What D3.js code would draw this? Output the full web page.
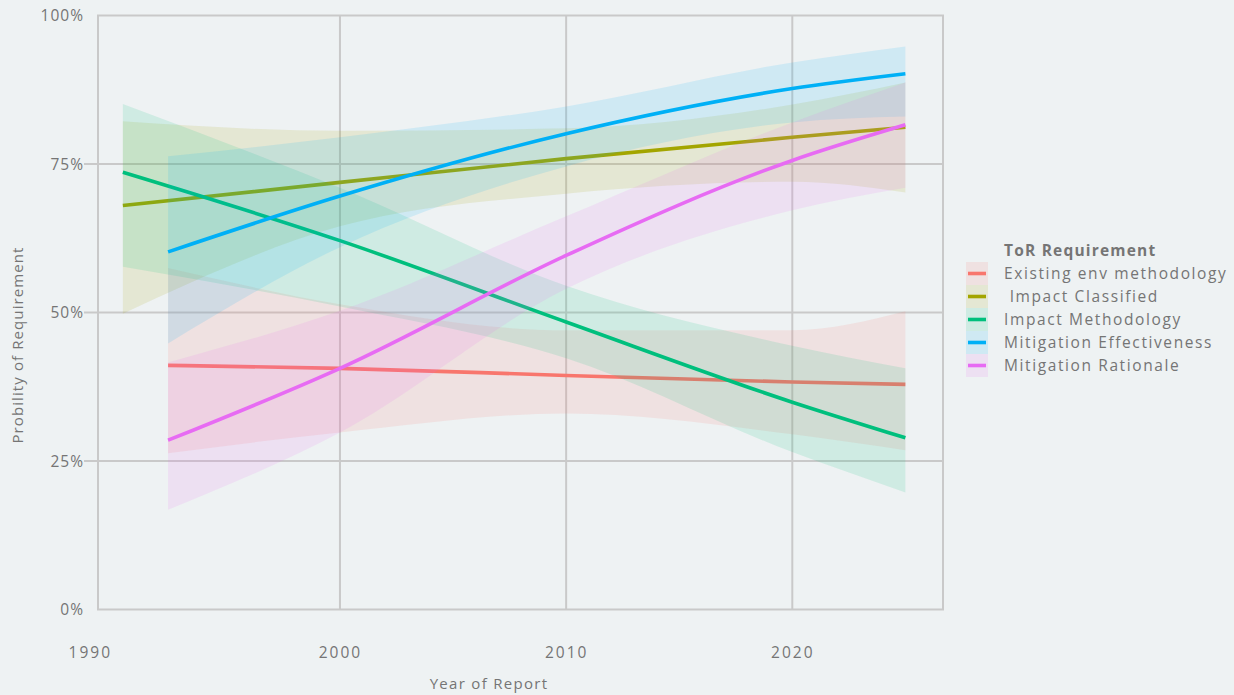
<!DOCTYPE html>
<html><head><meta charset="utf-8">
<script src="https://cdn.jsdelivr.net/npm/d3@7"></script>
<style>
html,body{margin:0;padding:0;background:#eef2f3;}
svg{display:block;}
text{font-family:"Open Sans","Noto Sans",sans-serif;fill:#757575;}
</style></head>
<body>
<svg id="chart" width="1234" height="695"></svg>
<script>
// ---- data ----
const seriesNames = ["Existing env methodology","Impact Classified","Impact Methodology","Mitigation Effectiveness","Mitigation Rationale"];
const legendLabels = ["Existing env methodology"," Impact Classified","Impact Methodology","Mitigation Effectiveness","Mitigation Rationale"];
const seriesColors = ["#F8766D","#A3A500","#00BF7D","#00B0F6","#E76BF3"];
const yearsLate = [1992.4, 2000, 2010, 2020, 2025];
const yearsEarly = [1990.4, 2000, 2010, 2020, 2025];
const seriesYears = [yearsLate, yearsEarly, yearsEarly, yearsLate, yearsLate];
// fitted probability (%)
const fitExisting   = [41.1, 40.6, 39.4, 38.3, 37.9];
const fitClassified = [68.0, 71.9, 75.9, 79.5, 81.2];
const fitImpactMeth = [73.6, 62.1, 48.4, 34.9, 28.9];
const fitMitEff     = [60.2, 69.6, 80.1, 87.7, 90.2];
const fitMitRat     = [28.5, 40.6, 59.6, 75.6, 81.6];
// lower confidence bound (%)
const lowExisting   = [26.3, 29.8, 33.0, 29.5, 26.8];
const lowClassified = [49.8, 64.5, 70.0, 72.0, 70.2];
const lowImpactMeth = [57.7, 51.0, 42.3, 26.5, 19.7];
const lowMitEff     = [44.8, 61.0, 74.6, 82.0, 83.0];
const lowMitRat     = [16.8, 29.8, 54.0, 67.2, 71.0];
// upper confidence bound (%)
const upExisting    = [57.5, 51.4, 47.0, 47.0, 50.2];
const upClassified  = [82.2, 80.6, 81.0, 85.0, 88.7];
const upImpactMeth  = [85.1, 71.0, 54.5, 44.4, 40.6];
const upMitEff      = [76.3, 79.5, 84.7, 92.1, 94.8];
const upMitRat      = [41.6, 50.3, 66.2, 82.0, 88.7];
const fits = [fitExisting, fitClassified, fitImpactMeth, fitMitEff, fitMitRat];
const lows = [lowExisting, lowClassified, lowImpactMeth, lowMitEff, lowMitRat];
const ups  = [upExisting, upClassified, upImpactMeth, upMitEff, upMitRat];
const xTicks = [1990, 2000, 2010, 2020];
const yTicks = [0, 0.25, 0.5, 0.75, 1];

// ---- layout ----
const svg = d3.select("#chart");
const W = 1234, H = 695;
const plot = {left: 98, right: 943, top: 15.5, bottom: 609.5};
const x = d3.scaleLinear().domain([1990, 2020]).range([113.8, 792.3]);
const y = d3.scaleLinear().domain([0, 1]).range([plot.bottom, plot.top]);
const gridColor = "#c9c9c9";
const txt = "#747474";

svg.append("rect").attr("width", W).attr("height", H).attr("fill", "#eef2f3");

// grid
const g = svg.append("g");
g.selectAll("line.hg").data(yTicks.filter(d => d > 0 && d < 1)).enter().append("line")
  .attr("x1", 84).attr("x2", plot.right).attr("y1", d => y(d)).attr("y2", d => y(d))
  .attr("stroke", gridColor).attr("stroke-width", 2);
g.selectAll("line.vg").data(xTicks.filter(d => d > 1990)).enter().append("line")
  .attr("x1", d => x(d)).attr("x2", d => x(d)).attr("y1", plot.top).attr("y2", plot.bottom)
  .attr("stroke", gridColor).attr("stroke-width", 2);
g.append("rect").attr("x", plot.left).attr("y", plot.top)
  .attr("width", plot.right - plot.left).attr("height", plot.bottom - plot.top)
  .attr("fill", "none").attr("stroke", gridColor).attr("stroke-width", 2);

// axes (labels only)
const yAxis = d3.axisLeft(y).tickValues(yTicks).tickSize(0).tickPadding(0)
  .tickFormat(d => d3.format(".0%")(d));
const ya = svg.append("g").attr("transform", "translate(84,0)").call(yAxis);
ya.select(".domain").remove();
ya.selectAll("text").attr("font-size", 15.5).attr("fill", txt).style("letter-spacing", "1px")
  .attr("font-family", '"Open Sans",sans-serif').attr("dy", "0.35em");

const xAxis = d3.axisBottom(x).tickValues(xTicks).tickSize(0).tickPadding(0)
  .tickFormat(d3.format("d"));
const xa = svg.append("g").attr("transform", "translate(0,656)").call(xAxis);
xa.select(".domain").remove();
xa.selectAll("text").attr("font-size", 15.5).attr("fill", txt).style("letter-spacing", "2px")
  .attr("font-family", '"Open Sans",sans-serif').attr("dy", "0.1em");
xa.selectAll(".tick").filter(d => d === 1990).select("text").attr("dx", -24);

// axis titles
svg.append("text").attr("x", 489).attr("y", 689).attr("text-anchor", "middle")
  .attr("font-size", 15).attr("fill", txt).style("letter-spacing", "1.3px").text("Year of Report");
svg.append("text").attr("transform", "translate(23,345) rotate(-90)").attr("text-anchor", "middle")
  .attr("font-size", 15).attr("fill", txt).style("letter-spacing", "1.1px").text("Probility of Requirement");

// series
const area = d3.area().curve(d3.curveMonotoneX);
const line = d3.line().curve(d3.curveMonotoneX);
seriesNames.forEach((name, i) => {
  const yrs = seriesYears[i];
  const pts = yrs.map((yr, j) => ({yr, f: fits[i][j] / 100, lo: lows[i][j] / 100, hi: ups[i][j] / 100}));
  const sg = svg.append("g").attr("class", "series");
  sg.append("path").datum(pts)
    .attr("d", area.x(d => x(d.yr)).y0(d => y(d.lo)).y1(d => y(d.hi)))
    .attr("fill", seriesColors[i]).attr("fill-opacity", 0.13);
  sg.append("path").datum(pts)
    .attr("d", line.x(d => x(d.yr)).y(d => y(d.f)))
    .attr("fill", "none").attr("stroke", seriesColors[i]).attr("stroke-width", 3.6);
});

// legend
const lg = svg.append("g").attr("transform", "translate(966,262)");
lg.append("text").attr("x", 38).attr("y", -6).attr("font-size", 15.5).attr("font-weight", 700)
  .attr("fill", "#666").style("letter-spacing", "1.2px").text("ToR Requirement");
seriesNames.forEach((name, i) => {
  const row = lg.append("g").attr("transform", `translate(0,${i * 23})`);
  row.append("rect").attr("x", 0).attr("y", 0).attr("width", 22).attr("height", 23)
    .attr("fill", seriesColors[i]).attr("fill-opacity", 0.13);
  row.append("line").attr("x1", 2).attr("x2", 20).attr("y1", 11.5).attr("y2", 11.5)
    .attr("stroke", seriesColors[i]).attr("stroke-width", 3.6);
  row.append("text").attr("x", 38).attr("y", 11.5).attr("dy", "0.35em").attr("font-size", 15.5)
    .attr("fill", txt).style("letter-spacing", "1.6px").style("white-space", "pre")
    .text(legendLabels[i]);
});
</script>
</body></html>
